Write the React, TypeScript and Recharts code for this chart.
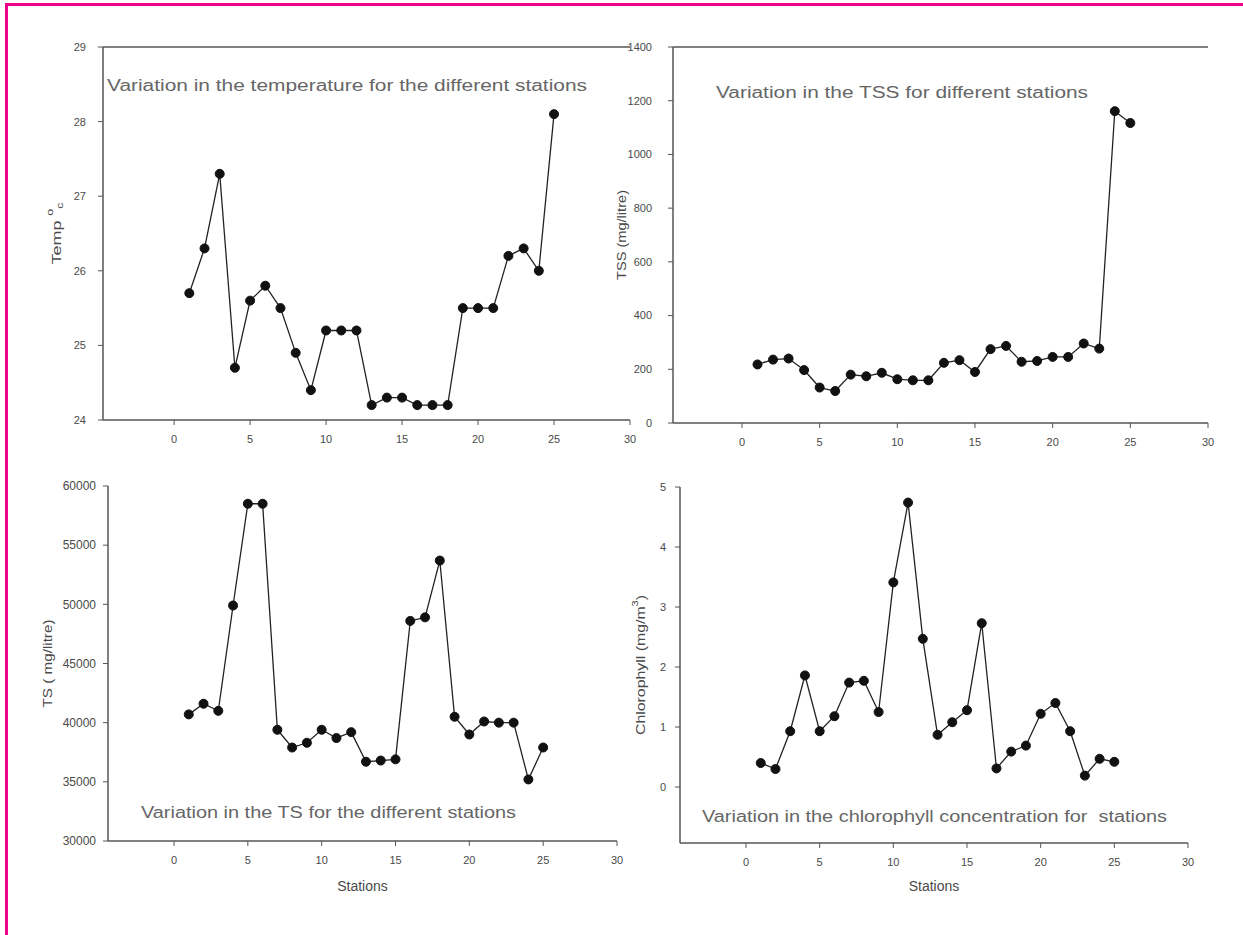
import React from "react"
import { LineChart, Line, XAxis, YAxis, ReferenceLine, Label } from "recharts"

// station numbers along the x axis
const stations = [1, 2, 3, 4, 5, 6, 7, 8, 9, 10, 11, 12, 13, 14, 15, 16, 17, 18, 19, 20, 21, 22, 23, 24, 25]
const stationTicks = [0, 5, 10, 15, 20, 25, 30]

const temperature = [25.7, 26.3, 27.3, 24.7, 25.6, 25.8, 25.5, 24.9, 24.4, 25.2, 25.2, 25.2, 24.2, 24.3, 24.3, 24.2, 24.2, 24.2, 25.5, 25.5, 25.5, 26.2, 26.3, 26.0, 28.1]
const tss = [218, 236, 240, 197, 132, 119, 180, 174, 187, 163, 159, 159, 224, 234, 190, 275, 287, 228, 231, 246, 246, 296, 277, 1161, 1117]
const ts = [40700, 41600, 41000, 49900, 58500, 58500, 39400, 37900, 38300, 39400, 38700, 39200, 36700, 36800, 36900, 48600, 48900, 53700, 40500, 39000, 40100, 40000, 40000, 35200, 37900]
const chlorophyll = [0.4, 0.3, 0.93, 1.86, 0.93, 1.18, 1.74, 1.77, 1.25, 3.41, 4.74, 2.47, 0.87, 1.08, 1.28, 2.73, 0.31, 0.59, 0.69, 1.22, 1.4, 0.93, 0.19, 0.47, 0.42]

const tempTicks = [24, 25, 26, 27, 28, 29]
const tssTicks = [0, 200, 400, 600, 800, 1000, 1200, 1400]
const tsTicks = [30000, 35000, 40000, 45000, 50000, 55000, 60000]
const chlTicks = [0, 1, 2, 3, 4, 5]

const rows = stations.map((s, i) => ({
  station: s,
  temperature: temperature[i],
  tss: tss[i],
  ts: ts[i],
  chlorophyll: chlorophyll[i],
}))

const FONT = "'Liberation Sans', Arial, sans-serif"
const AXIS = "#555"
const TEXT = "#4a4a4a"

function RotatedLabel({ viewBox, cx, len, children }: any) {
  const cy = viewBox.y + viewBox.height / 2
  return (
    <text
      x={cx}
      y={cy}
      transform={`rotate(-90 ${cx} ${cy})`}
      textAnchor="middle"
      dominantBaseline="central"
      fontSize={13}
      fill={TEXT}
      fontFamily={FONT}
      textLength={len}
      lengthAdjust="spacingAndGlyphs"
    >
      {children}
    </text>
  )
}

type PanelProps = {
  left: number
  top: number
  width: number
  height: number
  margin: { top: number; right: number; bottom: number; left: number }
  yWidth: number
  xHeight: number
  xMin: number
  yKey: string
  yDomain: [number, number]
  yTicks: number[]
  yTickMargin: number
  yTickSize?: number
  yLabelX: number
  yLabelLen: number
  yLabel: React.ReactNode
  frameTop?: number
  stations?: boolean
}

function Panel(p: PanelProps) {
  return (
    <div style={{ position: "absolute", left: p.left, top: p.top }}>
      <LineChart width={p.width} height={p.height} data={rows} margin={p.margin}>
        <XAxis
          dataKey="station"
          type="number"
          domain={[p.xMin, 30]}
          ticks={stationTicks}
          height={p.xHeight}
          tickSize={5}
          tickMargin={10}
          axisLine={{ stroke: AXIS, strokeWidth: 1.5 }}
          tickLine={{ stroke: AXIS }}
          tick={{ fontSize: 11, fill: TEXT, fontFamily: FONT }}
        >
          {p.stations && (
            <Label value="Stations" position="insideBottom" offset={0} fontSize={14} fill={TEXT} fontFamily={FONT} />
          )}
        </XAxis>
        <YAxis
          dataKey={p.yKey}
          type="number"
          domain={p.yDomain}
          ticks={p.yTicks}
          width={p.yWidth}
          tickSize={5}
          tickMargin={p.yTickMargin}
          axisLine={{ stroke: AXIS, strokeWidth: 1.5 }}
          tickLine={{ stroke: AXIS }}
          tick={{ fontSize: p.yTickSize ?? 11, fill: TEXT, fontFamily: FONT }}
          interval={0}
          label={(lp: any) => (
            <RotatedLabel viewBox={lp.viewBox} cx={p.yLabelX} len={p.yLabelLen}>
              {p.yLabel}
            </RotatedLabel>
          )}
        />
        {p.frameTop !== undefined && <ReferenceLine y={p.frameTop} stroke={AXIS} strokeWidth={1.5} />}
        <Line
          type="linear"
          dataKey={p.yKey}
          stroke="#222"
          strokeWidth={1.3}
          dot={{ r: 4.5, fill: "#111", stroke: "#111", strokeWidth: 1 }}
          activeDot={false}
          isAnimationActive={false}
        />
      </LineChart>
    </div>
  )
}

const titles = [
  { text: "Variation in the temperature for the different stations", x: 107, y: 85, w: 480 },
  { text: "Variation in the TSS for different stations", x: 716, y: 92, w: 372 },
  { text: "Variation in the TS for the different stations", x: 141, y: 812, w: 375 },
  { text: "Variation in the chlorophyll concentration for\u00a0 stations", x: 702, y: 816, w: 465 },
]

export default function App() {
  return (
    <div
      style={{
        position: "absolute",
        left: 0,
        top: 0,
        width: 1243,
        height: 935,
        background: "#fff",
        overflow: "hidden",
        fontFamily: FONT,
      }}
    >
      <Panel
        left={0}
        top={0}
        width={640}
        height={460}
        margin={{ top: 47, right: 10, bottom: 0, left: 0 }}
        yWidth={103}
        xHeight={40}
        xMin={-4.68}
        yKey="temperature"
        yDomain={[24, 29]}
        yTicks={tempTicks}
        yTickMargin={12}
        yLabelX={56}
        yLabelLen={62}
        yLabel={
          <>
            <tspan>Temp </tspan>
            <tspan fontSize={9} dy={-6}>o</tspan>
            <tspan fontSize={9} dy={10}>c</tspan>
          </>
        }
        frameTop={29}
      />
      <Panel
        left={600}
        top={0}
        width={643}
        height={460}
        margin={{ top: 47, right: 35, bottom: 0, left: 0 }}
        yWidth={73}
        xHeight={37}
        xMin={-4.44}
        yKey="tss"
        yDomain={[0, 1400]}
        yTicks={tssTicks}
        yTickMargin={16}
        yLabelX={21}
        yLabelLen={90}
        yLabel="TSS (mg/litre)"
        frameTop={1400}
      />
      <Panel
        left={0}
        top={460}
        width={640}
        height={475}
        margin={{ top: 26, right: 23, bottom: 44, left: 0 }}
        yWidth={108}
        xHeight={50}
        xMin={-4.47}
        yKey="ts"
        yDomain={[30000, 60000]}
        yTicks={tsTicks}
        yTickMargin={7}
        yTickSize={12}
        yLabelX={47}
        yLabelLen={88}
        yLabel="TS ( mg/litre)"
        stations
      />
      <Panel
        left={600}
        top={460}
        width={643}
        height={475}
        margin={{ top: 27, right: 55, bottom: 44, left: 0 }}
        yWidth={80}
        xHeight={48}
        xMin={-4.48}
        yKey="chlorophyll"
        yDomain={[-0.933, 5]}
        yTicks={chlTicks}
        yTickMargin={9}
        yLabelX={40}
        yLabelLen={140}
        yLabel={
          <>
            <tspan>Chlorophyll (mg/m</tspan>
            <tspan fontSize={9} dy={-5}>3</tspan>
            <tspan dy={5}>)</tspan>
          </>
        }
        stations
      />
      <svg width={1243} height={935} style={{ position: "absolute", left: 0, top: 0, pointerEvents: "none" }}>
        {titles.map((t) => (
          <text
            key={t.text}
            x={t.x}
            y={t.y}
            dominantBaseline="central"
            fontSize={16}
            fill="#666"
            fontFamily={FONT}
            textLength={t.w}
            lengthAdjust="spacingAndGlyphs"
          >
            {t.text}
          </text>
        ))}
        <rect x={5} y={3} width={1238} height={3} fill="#EC008C" />
        <rect x={5} y={3} width={3} height={932} fill="#EC008C" />
      </svg>
    </div>
  )
}
